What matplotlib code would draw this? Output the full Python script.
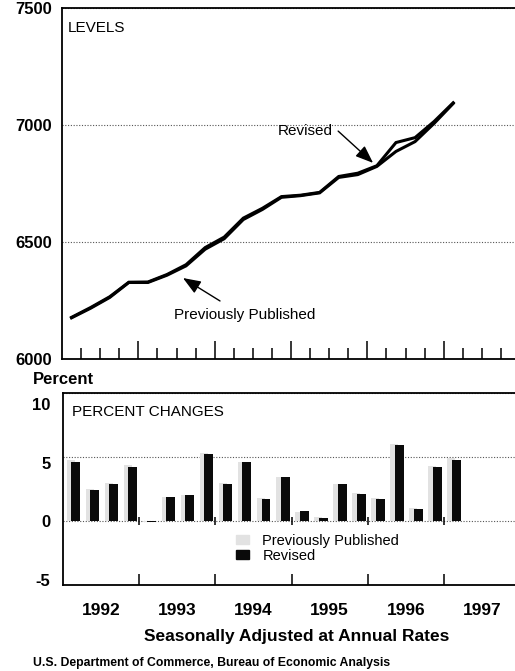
import matplotlib
matplotlib.use('Agg')
import matplotlib.pyplot as plt
from matplotlib.patches import Patch
from matplotlib.transforms import ScaledTranslation
import numpy as np

plt.rcParams['font.family'] = ['Liberation Sans', 'DejaVu Sans']

# quarterly data, 1992 Q1 - 1997 Q1
quarters = ['92Q1', '92Q2', '92Q3', '92Q4', '93Q1', '93Q2', '93Q3', '93Q4',
            '94Q1', '94Q2', '94Q3', '94Q4', '95Q1', '95Q2', '95Q3', '95Q4',
            '96Q1', '96Q2', '96Q3', '96Q4', '97Q1']
years = ['1992', '1993', '1994', '1995', '1996', '1997']

level_previous = [6178, 6220, 6266, 6328, 6329, 6361, 6403, 6476, 6521, 6602, 6644,
                  6694, 6700, 6712, 6780, 6794, 6826, 6925, 6946, 7015, 7095]
level_revised = [6176, 6217, 6263, 6327, 6327, 6358, 6398, 6469, 6514, 6596, 6639,
                 6691, 6698, 6710, 6776, 6788, 6823, 6887, 6929, 7007, 7092]

pct_previous = [4.8, 2.5, 3.0, 4.4, -0.1, 1.9, 2.0, 5.3, 3.0, 4.6, 1.8,
                3.4, 0.7, 0.3, 2.9, 2.2, 1.8, 6.0, 1.0, 4.3, 4.9]
pct_revised = [4.6, 2.4, 2.9, 4.2, -0.1, 1.9, 2.0, 5.2, 2.9, 4.6, 1.7,
               3.4, 0.8, 0.2, 2.9, 2.1, 1.7, 5.9, 0.9, 4.2, 4.8]

W, H = 515, 671
fig = plt.figure(figsize=(W / 100, H / 100), dpi=100)


def box(left, top, right, bottom):
    return [left / W, 1 - bottom / H, (right - left) / W, (bottom - top) / H]


def px(x, y):
    return x / W, 1 - y / H


x = np.arange(len(quarters)) + 0.5
nq = len(years) * 4
grid_kw = dict(color='#555555', lw=0.8, linestyle=(0, (1, 1.5)))
gray = '#e2e2e2'

# ---- levels ----
ax1 = fig.add_axes(box(62, 8, 520, 359))
ax1.plot(x, level_previous, color='black', lw=2.2, solid_joinstyle='miter')
ax1.plot(x, level_revised, color='black', lw=2.2, solid_joinstyle='miter')
ax1.set_xlim(0, nq)
ax1.set_ylim(6000, 7500)
ax1.set_yticks([6000, 6500, 7000, 7500])
ax1.set_xticks(range(4, nq, 4))
ax1.set_xticks([i for i in range(1, nq) if i % 4], minor=True)
ax1.tick_params(axis='x', which='major', direction='in', length=13, width=1.1, labelbottom=False)
ax1.tick_params(axis='x', which='minor', direction='in', length=8, width=1.1)
ax1.tick_params(axis='y', length=0, pad=7, labelsize=12)
for t in ax1.get_yticklabels():
    t.set_fontweight('bold')
ax1.yaxis.grid(True, **grid_kw)
ax1.spines['right'].set_visible(False)
for s in ['left', 'top', 'bottom']:
    ax1.spines[s].set_linewidth(1.3)
fig.text(*px(68, 28), 'LEVELS', fontsize=11, va='center', ha='left')

arrow = dict(arrowstyle='-|>,head_length=0.9,head_width=0.35', color='black',
             lw=1.0, shrinkA=0, shrinkB=0, mutation_scale=12)
ax1.text(14.2, 6974, 'Revised', fontsize=11, ha='right', va='center')
ax1.annotate('', xy=(16.3, 6838), xytext=(14.47, 6974), arrowprops=arrow)
ax1.text(9.59, 6188, 'Previously Published', fontsize=11, ha='center', va='center')
ax1.annotate('', xy=(6.34, 6346), xytext=(8.28, 6248), arrowprops=arrow)

# ---- percent changes ----
ax2 = fig.add_axes(box(63, 393, 520, 585))
ax2.bar(x - 0.1, pct_previous, width=0.42, color=gray, zorder=2)
ax2.bar(x + 0.16, pct_revised, width=0.47, color='#0a0a0a', zorder=3)
ax2.vlines(range(4, nq, 4), -0.35, 0.35, color='black', lw=1.1, zorder=4)
ax2.set_xlim(0, nq)
ax2.set_ylim(-5, 10)
ax2.set_yticks([-5, 0, 5, 10])
ax2.set_yticklabels(['-5', '0', '5', '10'])
ax2.set_xticks(range(4, nq, 4))
ax2.set_xticks([2 + 4 * i for i in range(len(years))], minor=True)
ax2.set_xticklabels(years, minor=True)
ax2.tick_params(axis='x', which='major', direction='in', length=8, width=1.1, labelbottom=False)
ax2.tick_params(axis='x', which='minor', length=0, pad=13, labelsize=12.5)
ax2.tick_params(axis='y', length=0, pad=9, labelsize=12)
for t in ax2.get_yticklabels() + ax2.get_xticklabels(minor=True):
    t.set_fontweight('bold')
# the printed scale labels sit a little off the grid lines
for t, dy in zip(ax2.get_yticklabels(), [5, 0, -6, -11]):
    t.set_transform(t.get_transform() + ScaledTranslation(0, dy / 100, fig.dpi_scale_trans))
ax2.yaxis.grid(True, zorder=1, **grid_kw)
ax2.set_axisbelow(True)
ax2.spines['right'].set_visible(False)
for s in ['left', 'top', 'bottom']:
    ax2.spines[s].set_linewidth(1.3)
fig.text(*px(72, 412), 'PERCENT CHANGES', fontsize=11, va='center', ha='left')

handles = [Patch(color=gray, label='Previously Published'),
           Patch(color='#0a0a0a', label='Revised')]
ax2.legend(handles=handles, loc='upper left', bbox_to_anchor=px(236, 534),
           bbox_transform=fig.transFigure, frameon=False, fontsize=10.5,
           handlelength=0.9, handleheight=0.55, handletextpad=0.9,
           labelspacing=0.05, borderpad=0, borderaxespad=0)

fig.text(*px(33, 380), 'Percent', fontsize=12, fontweight='bold', va='center', ha='left')
fig.text(*px(297, 636), 'Seasonally Adjusted at Annual Rates', fontsize=12.5,
         fontweight='bold', va='center', ha='center')
fig.text(*px(33, 663), 'U.S. Department of Commerce, Bureau of Economic Analysis',
         fontsize=8.8, fontweight='bold', va='center', ha='left')

fig.savefig('out.png', dpi=100)
